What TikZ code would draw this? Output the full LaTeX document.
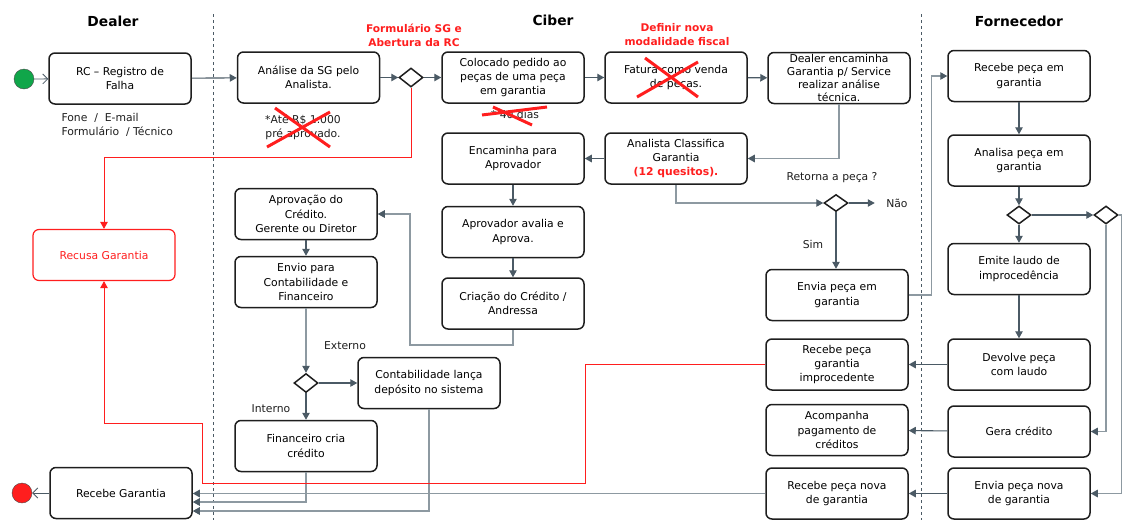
\documentclass[tikz,border=0pt]{standalone}
\usepackage{fontspec}
\setmainfont{DejaVu Sans}
\usetikzlibrary{arrows.meta,positioning,shapes.geometric}
\definecolor{boxline}{RGB}{30,30,30}
\definecolor{flowgray}{RGB}{75,90,101}
\definecolor{linkgray}{RGB}{141,153,161}
\definecolor{refusered}{RGB}{255,30,30}
\definecolor{startgreen}{RGB}{16,166,74}
\newcommand{\flowfont}{\fontsize{10.8}{14.4}\selectfont}

\begin{document}
\begin{tikzpicture}[x=1pt,y=-1pt,
    box/.style={draw=boxline,rounded corners=6pt,align=center,minimum width=142pt,
                minimum height=51pt,fill=white,line width=1.5pt,inner sep=2pt,font=\flowfont},
    tightbox/.style={box,inner ysep=0pt,font=\fontsize{10.8}{13.2}\selectfont},
    redbox/.style={box,draw=refusered,text=refusered,line width=1.2pt},
    gate/.style={diamond,draw=boxline,line width=1.5pt,fill=white,inner sep=0pt,
                 minimum width=24pt,minimum height=19pt},
    note/.style={align=center,font=\flowfont,text=boxline},
    lanetitle/.style={font=\bfseries\fontsize{13.8}{16}\selectfont},
    redtitle/.style={align=center,text=refusered,font=\bfseries\fontsize{10.6}{14}\selectfont},
    arrow/.style={-{Triangle[length=7pt,width=7.5pt,color=flowgray]},line width=1.1pt,draw=flowgray},
    link/.style={arrow,draw=linkgray},
    redarrow/.style={-{Triangle[length=7pt,width=7.5pt]},line width=1pt,draw=refusered},
    openarrow/.style={-{Straight Barb[length=5pt,width=10pt]},line width=0.8pt,draw=flowgray},
    cross/.style={draw=refusered,line width=3pt},
    lane/.style={dashed,draw=flowgray,line width=0.6pt}
  ]
    \useasboundingbox (0,0) rectangle (1125,520);

    % lanes
    \draw[lane] (213,14) -- (213,520);
    \draw[lane] (921,14) -- (921,520);
    \node[lanetitle] (tdealer) at (113,21) {Dealer};
    \node[lanetitle] (tciber) at (553,20) {Ciber};
    \node[lanetitle] (tforn) at (1019,21) {Fornecedor};
    \node[redtitle] (tform) at (414,35) {Formulário SG e\\Abertura da RC};
    \node[redtitle] (tfiscal) at (677,35) {Definir nova\\modalidade fiscal};

    % Dealer
    \node[circle,draw=boxline!80,fill=startgreen,minimum size=20pt,inner sep=0pt] (start) at (24,79) {};
    \node[box] (rc) at (120,78.5) {RC – Registro de\\Falha};
    \node[note,align=left,anchor=west] (contact) at (58,125) {Fone \ / \ E-mail\\Formulário \ / Técnico};
    \node[redbox] (recusa) at (104,255) {Recusa Garantia};
    \node[box] (recebeg) at (121,493) {Recebe Garantia};
    \node[circle,draw=boxline!80,fill=refusered,minimum size=20pt,inner sep=0pt] (stop) at (22,493) {};

    % Ciber
    \node[box] (analise) at (308.5,77.5) {Análise da SG pelo\\Analista.};
    \node[note] (limite) at (303,127) {*Até R\$ 1.000\\pré aprovado.};
    \node[gate] (d1) at (411,77.5) {};
    \node[box] (colocado) at (513,77.5) {Colocado pedido ao\\peças de uma peça\\em garantia};
    \node[note] (prazo) at (515,114) {* 40 dias};
    \node[box] (fatura) at (676,77.5) {Fatura como venda\\de peças.};
    \node[tightbox] (dealerenc) at (839,78) {Dealer encaminha\\Garantia p/ Service\\realizar análise\\técnica.};
    \node[box] (analista) at (676,158.5) {Analista Classifica\\Garantia\\{\color{refusered}\bfseries (12 quesitos).}};
    \node[box] (encaminha) at (513,158.5) {Encaminha para\\Aprovador};
    \node[box] (aprovador) at (513,232) {Aprovador avalia e\\Aprova.};
    \node[box] (criacao) at (513,303.5) {Criação do Crédito /\\Andressa};
    \node[box] (aprovacao) at (306,214) {Aprovação do\\Crédito.\\Gerente ou Diretor};
    \node[box] (envio) at (306,282) {Envio para\\Contabilidade e\\Financeiro};
    \node[gate] (d2) at (306,383) {};
    \node[note] (externo) at (345,346) {Externo};
    \node[note] (interno) at (271,409) {Interno};
    \node[box] (contab) at (429,383) {Contabilidade lança\\depósito no sistema};
    \node[box] (financeiro) at (306,446) {Financeiro cria\\crédito};

    \node[note] (retorna) at (832,178) {Retorna a peça ?};
    \node[gate,minimum height=17pt] (d3) at (836,203) {};
    \node[note,right=34pt of d3] (nao) {Não};
    \node[note] (sim) at (813,244) {Sim};
    \node[box] (enviapeca) at (837,295) {Envia peça em\\garantia};
    \node[box] (recimproc) at (837,364.5) {Recebe peça\\garantia\\improcedente};
    \node[box] (acompanha) at (837,430) {Acompanha\\pagamento de\\créditos};
    \node[box] (recnova) at (837,493.5) {Recebe peça nova\\de garantia};

    % Fornecedor
    \node[box] (recpeca) at (1019,76) {Recebe peça em\\garantia};
    \node[box] (analisa) at (1019,160.5) {Analisa peça em\\garantia};
    \node[gate,minimum height=18pt] (d4) at (1019,215) {};
    \node[gate,minimum height=18pt] (d5) at (1106,215) {};
    \node[box] (emite) at (1019,269) {Emite laudo de\\improcedência};
    \node[box] (devolve) at (1019,364.5) {Devolve peça\\com laudo};
    \node[box] (gera) at (1019,431.5) {Gera crédito};
    \node[box] (envianova) at (1019,493.5) {Envia peça nova\\de garantia};

    \coordinate (redtop) at (0,157);
    \coordinate (crbend) at (410,345);
    \coordinate (rb1) at (585,483);
    \coordinate (rb2) at (202,423);

    % flow
    \draw[openarrow] (start) -- (rc);
    \draw[arrow] (rc) -- (analise);
    \draw[arrow] (analise) -- (d1);
    \draw[arrow] (d1) -- (colocado);
    \draw[arrow] (colocado) -- (fatura);
    \draw[arrow] (fatura) -- (dealerenc);
    \draw[link] (dealerenc.south) |- (analista.east);
    \draw[arrow] (analista) -- (encaminha);
    \draw[arrow] (encaminha) -- (aprovador);
    \draw[arrow] (aprovador) -- (criacao);
    \draw[link] (criacao.south) |- (crbend) |- (aprovacao.east);
    \draw[arrow] (aprovacao) -- (envio);
    \draw[link] (envio) -- (d2);
    \draw[arrow] (d2) -- (contab);
    \draw[arrow] (d2) -- (financeiro);
    \draw[link] (financeiro.south) |- ([yshift=-9pt]recebeg.east);
    \draw[link] (contab.south) |- ([yshift=-18pt]recebeg.east);
    \draw[link] (recnova.west) -- (recnova.west -| recebeg.east);
    \draw[openarrow] (recebeg) -- (stop);

    \draw[link] (analista.south) |- (d3.west);
    \draw[arrow,shorten >=8pt] (d3.east) -- (nao.west);
    \draw[arrow] (d3.south) -- (d3.south |- enviapeca.north);
    \draw[link] (enviapeca.east) -| ([xshift=-16pt]recpeca.west) -- (recpeca.west);
    \draw[arrow] (recpeca) -- (analisa);
    \draw[arrow] (analisa) -- (d4);
    \draw[arrow] (d4) -- (emite);
    \draw[arrow] (d4) -- (d5);
    \draw[arrow] (emite) -- (devolve);
    \draw[link] (d5.south) |- (gera.east);
    \draw[link] (d5.east) -- ++(3,0) |- (envianova.east);
    \draw[arrow] (devolve) -- (recimproc);
    \draw[arrow] (gera) -- (acompanha);
    \draw[arrow] (envianova) -- (recnova);

    % refusal
    \draw[redarrow] (d1.south) |- (recusa.north |- redtop) -- (recusa.north);
    \draw[redarrow] (recimproc.west) -| (rb1) -| (rb2) -| (recusa.south);

    % struck out
    \draw[cross] (275,108) -- (330,147) (267,147) -- (330,112);
    \draw[cross] (645,58) -- (698,97) (637,97) -- (698,62);
    \draw[cross] (482,115) -- (547,107) (493,107) -- (532,125);
  \end{tikzpicture}
\end{document}
